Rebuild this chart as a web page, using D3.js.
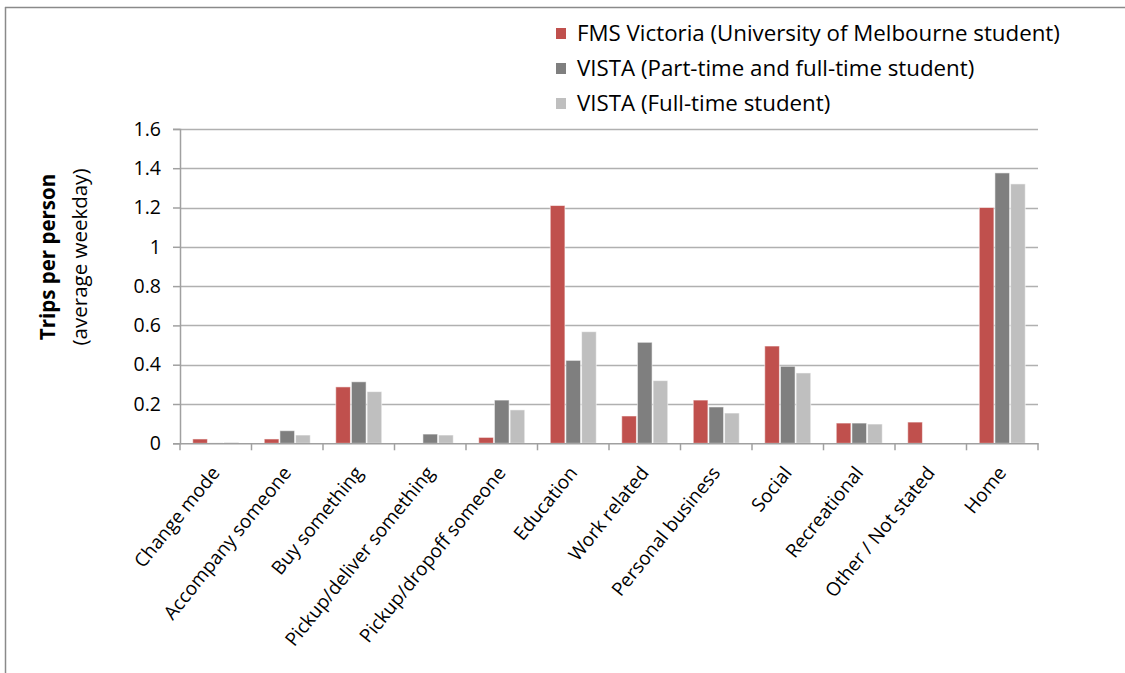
<!DOCTYPE html>
<html>
<head>
<meta charset="utf-8">
<script src="https://cdn.jsdelivr.net/npm/d3@7/dist/d3.min.js"></script>
<style>
  html, body { margin: 0; padding: 0; background: #fff; }
  svg { display: block; }
  text { font-family: "Open Sans", "DejaVu Sans", sans-serif; fill: #000; }
</style>
</head>
<body>
<svg id="chart" width="1125" height="673"></svg>
<script>
// Trip purposes on the x axis
const categories = [
  "Change mode", "Accompany someone", "Buy something", "Pickup/deliver something",
  "Pickup/dropoff someone", "Education", "Work related", "Personal business",
  "Social", "Recreational", "Other / Not stated", "Home"
];

// Series names, in legend order
const seriesNames = [
  "FMS Victoria (University of Melbourne student)",
  "VISTA (Part-time and full-time student)",
  "VISTA (Full-time student)"
];

// Trips per person on an average weekday, one value per category
const fmsVictoria   = [0.022, 0.022, 0.287, 0,     0.03,  1.21, 0.139, 0.22,  0.495, 0.103, 0.108, 1.2];
const vistaPtFt     = [0.002, 0.064, 0.313, 0.047, 0.22,  0.422, 0.514, 0.185, 0.392, 0.103, 0,     1.376];
const vistaFullTime = [0.005, 0.042, 0.263, 0.042, 0.17,  0.568, 0.319, 0.154, 0.358, 0.098, 0,     1.32];

const yTicks = [0, 0.2, 0.4, 0.6, 0.8, 1, 1.2, 1.4, 1.6];
const seriesColors = ["#C0504D", "#7F7F7F", "#BFBFBF"];

const seriesValues = [fmsVictoria, vistaPtFt, vistaFullTime];
const rows = categories.map((c, i) => ({
  category: c,
  values: seriesNames.map((s, j) => ({ series: s, value: seriesValues[j][i], color: seriesColors[j] }))
}));

const svg = d3.select("#chart");

// outer frame (left and top edges)
svg.append("line").attr("x1", 5.5).attr("x2", 5.5).attr("y1", 7).attr("y2", 673)
  .attr("stroke", "#8a8a8a").attr("stroke-width", 1.5);
svg.append("line").attr("x1", 5).attr("x2", 1125).attr("y1", 7.5).attr("y2", 7.5)
  .attr("stroke", "#8a8a8a").attr("stroke-width", 1.5);

const plot = { left: 180, right: 1038, top: 128.9, bottom: 443.3 };

const x0 = d3.scaleBand().domain(categories).range([plot.left, plot.right]).paddingInner(0).paddingOuter(0);
const groupPad = (x0.bandwidth() - 47) / 2;
const x1 = d3.scaleBand().domain(seriesNames).range([groupPad, groupPad + 47]).padding(0);
const y = d3.scaleLinear().domain([0, 1.6]).range([plot.bottom, plot.top]);

// horizontal gridlines
svg.append("g")
  .selectAll("line")
  .data(yTicks.filter(t => t > 0))
  .join("line")
  .attr("x1", plot.left).attr("x2", plot.right)
  .attr("y1", d => Math.round(y(d)) + 0.5).attr("y2", d => Math.round(y(d)) + 0.5)
  .attr("stroke", "#b0b0b0").attr("stroke-width", 1.5);

// bars
svg.append("g")
  .selectAll("g")
  .data(rows)
  .join("g")
  .attr("transform", d => `translate(${x0(d.category)},0)`)
  .selectAll("rect")
  .data(d => d.values.filter(v => v.value > 0))
  .join("rect")
  .attr("x", d => x1(d.series) + 0.5)
  .attr("width", x1.bandwidth() - 1)
  .attr("y", d => y(d.value))
  .attr("height", d => y(0) - y(d.value))
  .attr("fill", d => d.color)
  .attr("stroke", "#ffffff").attr("stroke-opacity", 0.55).attr("stroke-width", 1);

// y axis
const yAxis = svg.append("g")
  .attr("transform", `translate(${plot.left},0)`)
  .call(d3.axisLeft(y).tickValues(yTicks).tickFormat(d => d3.format("")(+d.toFixed(1))).tickSize(7).tickPadding(12));
yAxis.select(".domain").attr("stroke", "#a0a0a0").attr("stroke-width", 1.5);
yAxis.selectAll(".tick line").attr("stroke", "#a0a0a0").attr("stroke-width", 1.5);
yAxis.selectAll("text").attr("font-size", 19.5).attr("fill", "#000")
  .style("font-family", "'Open Sans', sans-serif");

// x axis
const xAxis = svg.append("g")
  .attr("transform", `translate(0,${plot.bottom})`)
  .call(d3.axisBottom(x0).tickSize(0).tickFormat(""));
xAxis.select(".domain").attr("stroke", "#a0a0a0").attr("stroke-width", 1.5);

// category boundary ticks
svg.append("g")
  .selectAll("line")
  .data(d3.range(categories.length + 1))
  .join("line")
  .attr("x1", i => plot.left + i * x0.step()).attr("x2", i => plot.left + i * x0.step())
  .attr("y1", plot.bottom).attr("y2", plot.bottom + 7)
  .attr("stroke", "#a0a0a0").attr("stroke-width", 1.5);

// rotated category labels
svg.append("g")
  .selectAll("text")
  .data(categories)
  .join("text")
  .attr("transform", d => `translate(${x0(d) + x0.bandwidth() / 2 + 5},${plot.bottom + 30}) rotate(-51)`)
  .attr("text-anchor", "end")
  .attr("font-size", 19)
  .text(d => d);

// y axis title
const yTitle = svg.append("text")
  .attr("transform", `translate(0,257) rotate(-90)`)
  .attr("text-anchor", "middle")
  .attr("font-size", 20.5);
yTitle.append("tspan").attr("x", 0).attr("y", 55).attr("font-weight", "bold").text("Trips per person");
yTitle.append("tspan").attr("x", 0).attr("y", 87).text("(average weekday)");

// legend
const legend = svg.append("g")
  .selectAll("g")
  .data(seriesNames.map((s, i) => ({ name: s, color: seriesColors[i] })))
  .join("g")
  .attr("transform", (d, i) => `translate(556,${33.5 + i * 35})`);
legend.append("rect").attr("x", 0).attr("y", -5.5).attr("width", 10).attr("height", 11).attr("fill", d => d.color);
legend.append("text").attr("x", 21).attr("y", 7.5).attr("font-size", 22.3).text(d => d.name);
</script>
</body>
</html>
